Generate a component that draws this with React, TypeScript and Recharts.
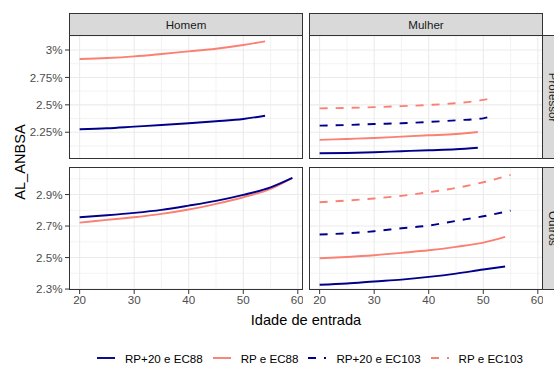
import React from 'react';
import { LineChart, Line, XAxis, YAxis, ReferenceLine } from 'recharts';

// ages (x) and AL_ANBSA (%) per facet and series
const homemProfAges = [20, 25, 30, 35, 40, 45, 50, 54];
const homemProfRP20EC88 = [2.277, 2.286, 2.301, 2.316, 2.332, 2.35, 2.371, 2.401];
const homemProfRPEC88 = [2.918, 2.927, 2.942, 2.964, 2.988, 3.012, 3.046, 3.079];

const homemOutrosAges = [20, 25, 30, 35, 40, 45, 50, 55, 59];
const homemOutrosRP20EC88 = [2.756, 2.769, 2.784, 2.803, 2.83, 2.86, 2.898, 2.946, 3.006];
const homemOutrosRPEC88 = [2.722, 2.739, 2.756, 2.777, 2.805, 2.841, 2.883, 2.936, 3.006];

const mulherProfAgesEC88 = [20, 25, 30, 35, 40, 45, 49];
const mulherProfRP20EC88 = [2.058, 2.061, 2.067, 2.077, 2.086, 2.095, 2.109];
const mulherProfRPEC88 = [2.18, 2.189, 2.198, 2.21, 2.222, 2.234, 2.252];
const mulherProfAgesEC103 = [20, 25, 30, 35, 40, 45, 50, 51];
const mulherProfRP20EC103 = [2.31, 2.316, 2.325, 2.332, 2.344, 2.359, 2.377, 2.389];
const mulherProfRPEC103 = [2.468, 2.472, 2.479, 2.488, 2.499, 2.515, 2.545, 2.555];

const mulherOutrosAgesEC88 = [20, 25, 30, 35, 40, 45, 50, 54];
const mulherOutrosRP20EC88 = [2.327, 2.335, 2.348, 2.36, 2.377, 2.398, 2.424, 2.443];
const mulherOutrosRPEC88 = [2.496, 2.504, 2.515, 2.53, 2.546, 2.568, 2.595, 2.631];
const mulherOutrosAgesEC103 = [20, 25, 30, 35, 40, 45, 50, 55];
const mulherOutrosRP20EC103 = [2.646, 2.654, 2.667, 2.686, 2.703, 2.733, 2.762, 2.798];
const mulherOutrosRPEC103 = [2.851, 2.862, 2.875, 2.892, 2.915, 2.942, 2.978, 3.025];

const ageTicks = [20, 30, 40, 50, 60];
const ageMinor = [25, 35, 45, 55];
const profTicks = [2.25, 2.5, 2.75, 3];
const profMinor = [2.125, 2.375, 2.625, 2.875, 3.125];
const outrosTicks = [2.3, 2.5, 2.7, 2.9];
const outrosMinor = [2.4, 2.6, 2.8, 3.0];

const NAVY = '#00008B';
const SALMON = '#FA8072';
const FONT = '"Liberation Sans", Arial, sans-serif';
const LINE_W = 1.9;

const legendItems = [
  { name: 'RP+20 e EC88', color: NAVY, dash: undefined },
  { name: 'RP e EC88', color: SALMON, dash: undefined },
  { name: 'RP+20 e EC103', color: NAVY, dash: '8 8' },
  { name: 'RP e EC103', color: SALMON, dash: '8 8' },
];

type Series = { key: string; color: string; dash?: string; ages: number[]; values: number[] };

const zip = (ages: number[], values: number[]) => ages.map((age, i) => ({ age, v: values[i] }));

const AGE_DOMAIN: [number, number] = [18.05, 60.95];
const PROF_DOMAIN: [number, number] = [2.006, 3.137];
const OUTROS_DOMAIN: [number, number] = [2.294, 3.075];

const PANEL_W = 234;

interface PanelProps {
  series: Series[];
  yDomain: [number, number];
  yTicks: number[];
  yMinor: number[];
  showY: boolean;
  showX: boolean;
  plotH: number;
}

const Panel: React.FC<PanelProps> = ({ series, yDomain, yTicks, yMinor, showY, showX, plotH }) => {
  const yW = showY ? 69 : 0;
  const xH = showX ? 22 : 0;
  return (
    <LineChart width={PANEL_W + yW} height={plotH + xH} margin={{ top: 0, right: 0, bottom: 0, left: 0 }}>
      <XAxis
        type="number"
        dataKey="age"
        domain={AGE_DOMAIN}
        ticks={ageTicks}
        allowDataOverflow
        hide={!showX}
        height={xH}
        axisLine={false}
        tickSize={4}
        tickMargin={2}
        tickLine={{ stroke: '#333333' }}
        tick={{ fill: '#4D4D4D', fontSize: 11.6, fontFamily: FONT }}
      />
      <YAxis
        type="number"
        domain={yDomain}
        ticks={yTicks}
        allowDataOverflow
        hide={!showY}
        width={yW}
        axisLine={false}
        tickSize={4}
        tickMargin={2.5}
        tickLine={{ stroke: '#333333' }}
        tick={{ fill: '#4D4D4D', fontSize: 11.6, fontFamily: FONT }}
        tickFormatter={(v: number) => `${v}%`}
      />
      {yMinor.map((t) => (
        <ReferenceLine key={`ym${t}`} y={t} stroke="#EBEBEB" strokeWidth={0.6} />
      ))}
      {ageMinor.map((t) => (
        <ReferenceLine key={`xm${t}`} x={t} stroke="#EBEBEB" strokeWidth={0.6} />
      ))}
      {yTicks.map((t) => (
        <ReferenceLine key={`y${t}`} y={t} stroke="#EBEBEB" strokeWidth={1.1} />
      ))}
      {ageTicks.map((t) => (
        <ReferenceLine key={`x${t}`} x={t} stroke="#EBEBEB" strokeWidth={1.1} />
      ))}
      {series.map((s) => (
        <Line
          key={s.key}
          data={zip(s.ages, s.values)}
          dataKey="v"
          type="monotone"
          stroke={s.color}
          strokeWidth={LINE_W}
          strokeDasharray={s.dash}
          dot={false}
          activeDot={false}
          isAnimationActive={false}
        />
      ))}
    </LineChart>
  );
};

const box = (left: number, top: number, width: number, height: number): React.CSSProperties => ({
  position: 'absolute',
  left,
  top,
  width,
  height,
  boxSizing: 'border-box',
});

export default function App() {
  const homemProf: Series[] = [
    { key: 'a', color: NAVY, ages: homemProfAges, values: homemProfRP20EC88 },
    { key: 'b', color: SALMON, ages: homemProfAges, values: homemProfRPEC88 },
  ];
  const homemOutros: Series[] = [
    { key: 'b', color: SALMON, ages: homemOutrosAges, values: homemOutrosRPEC88 },
    { key: 'a', color: NAVY, ages: homemOutrosAges, values: homemOutrosRP20EC88 },
  ];
  const mulherProf: Series[] = [
    { key: 'a', color: NAVY, ages: mulherProfAgesEC88, values: mulherProfRP20EC88 },
    { key: 'b', color: SALMON, ages: mulherProfAgesEC88, values: mulherProfRPEC88 },
    { key: 'c', color: NAVY, dash: '8 8', ages: mulherProfAgesEC103, values: mulherProfRP20EC103 },
    { key: 'd', color: SALMON, dash: '8 8', ages: mulherProfAgesEC103, values: mulherProfRPEC103 },
  ];
  const mulherOutros: Series[] = [
    { key: 'a', color: NAVY, ages: mulherOutrosAgesEC88, values: mulherOutrosRP20EC88 },
    { key: 'b', color: SALMON, ages: mulherOutrosAgesEC88, values: mulherOutrosRPEC88 },
    { key: 'c', color: NAVY, dash: '8 8', ages: mulherOutrosAgesEC103, values: mulherOutrosRP20EC103 },
    { key: 'd', color: SALMON, dash: '8 8', ages: mulherOutrosAgesEC103, values: mulherOutrosRPEC103 },
  ];

  const stripStyle: React.CSSProperties = {
    background: '#D9D9D9',
    border: '1px solid #333333',
    display: 'flex',
    alignItems: 'center',
    justifyContent: 'center',
    fontSize: 11.6,
    color: '#1A1A1A',
  };
  const border: React.CSSProperties = { border: '1px solid #333333', pointerEvents: 'none' };

  return (
    <div
      style={{
        position: 'absolute',
        left: 0,
        top: 0,
        width: 554,
        height: 365,
        overflow: 'hidden',
        background: '#fff',
        fontFamily: FONT,
      }}
    >
      {/* panels */}
      <div style={box(0, 35, 303, 124)}>
        <Panel series={homemProf} yDomain={PROF_DOMAIN} yTicks={profTicks} yMinor={profMinor} showY showX={false} plotH={124} />
      </div>
      <div style={box(309, 35, PANEL_W, 124)}>
        <Panel series={mulherProf} yDomain={PROF_DOMAIN} yTicks={profTicks} yMinor={profMinor} showY={false} showX={false} plotH={124} />
      </div>
      <div style={box(0, 167, 303, 145)}>
        <Panel series={homemOutros} yDomain={OUTROS_DOMAIN} yTicks={outrosTicks} yMinor={outrosMinor} showY showX plotH={123} />
      </div>
      <div style={box(309, 167, PANEL_W, 145)}>
        <Panel series={mulherOutros} yDomain={OUTROS_DOMAIN} yTicks={outrosTicks} yMinor={outrosMinor} showY={false} showX plotH={123} />
      </div>

      {/* panel borders */}
      <div style={{ ...box(69, 35, PANEL_W, 124), ...border }} />
      <div style={{ ...box(309, 35, PANEL_W, 124), ...border }} />
      <div style={{ ...box(69, 167, PANEL_W, 123), ...border }} />
      <div style={{ ...box(309, 167, PANEL_W, 123), ...border }} />

      {/* strips */}
      <div style={{ ...box(69, 13, PANEL_W, 23), ...stripStyle }}>Homem</div>
      <div style={{ ...box(309, 13, PANEL_W, 23), ...stripStyle }}>Mulher</div>
      <div style={{ ...box(542, 35, 23, 124), ...stripStyle }}>
        <span style={{ transform: 'rotate(90deg)', whiteSpace: 'nowrap' }}>Professor</span>
      </div>
      <div style={{ ...box(542, 167, 23, 123), ...stripStyle }}>
        <span style={{ transform: 'rotate(90deg)', whiteSpace: 'nowrap' }}>Outros</span>
      </div>

      {/* axis titles */}
      <div
        style={{
          position: 'absolute',
          left: 20,
          top: 162,
          transform: 'translate(-50%, -50%) rotate(-90deg)',
          fontSize: 14.6,
          whiteSpace: 'nowrap',
          color: '#000',
        }}
      >
        AL_ANBSA
      </div>
      <div
        style={{
          position: 'absolute',
          left: 306,
          top: 320,
          transform: 'translate(-50%, -50%)',
          fontSize: 14.6,
          whiteSpace: 'nowrap',
          color: '#000',
        }}
      >
        Idade de entrada
      </div>

      {/* legend */}
      <div
        style={{
          position: 'absolute',
          left: 97,
          top: 350,
          display: 'flex',
          alignItems: 'center',
          fontSize: 11.6,
          color: '#000',
          whiteSpace: 'nowrap',
        }}
      >
        {legendItems.map((it) => (
          <div key={it.name} style={{ display: 'flex', alignItems: 'center', marginRight: 10 }}>
            <svg width={18} height={16} style={{ marginRight: 10 }}>
              <line x1={0} y1={8} x2={18} y2={8} stroke={it.color} strokeWidth={LINE_W} strokeDasharray={it.dash} />
            </svg>
            <span>{it.name}</span>
          </div>
        ))}
      </div>
    </div>
  );
}
